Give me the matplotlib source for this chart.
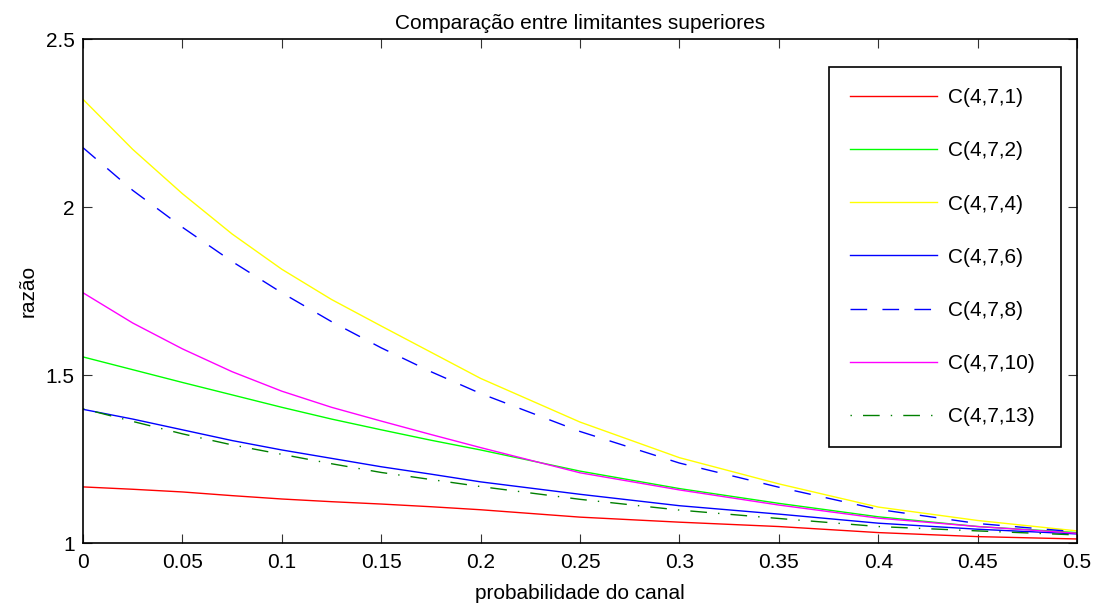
import matplotlib
matplotlib.use('Agg')
import matplotlib.pyplot as plt
from matplotlib.ticker import FuncFormatter

plt.rcParams['font.family'] = ['Liberation Sans', 'DejaVu Sans']

# probabilidade do canal
p = [0.0, 0.025, 0.05, 0.075, 0.10, 0.125, 0.15, 0.175, 0.20,
     0.25, 0.30, 0.35, 0.40, 0.45, 0.50]

c471  = [1.167, 1.160, 1.152, 1.141, 1.131, 1.123, 1.116, 1.108, 1.099,
         1.077, 1.062, 1.049, 1.031, 1.019, 1.012]
c472  = [1.554, 1.516, 1.478, 1.441, 1.404, 1.369, 1.337, 1.306, 1.277,
         1.214, 1.162, 1.118, 1.078, 1.049, 1.031]
c474  = [2.321, 2.172, 2.040, 1.920, 1.815, 1.725, 1.646, 1.568, 1.490,
         1.360, 1.254, 1.176, 1.107, 1.067, 1.036]
c476  = [1.398, 1.369, 1.337, 1.305, 1.277, 1.252, 1.227, 1.205, 1.182,
         1.145, 1.111, 1.086, 1.059, 1.041, 1.027]
c478  = [2.177, 2.050, 1.940, 1.838, 1.745, 1.659, 1.581, 1.510, 1.445,
         1.332, 1.238, 1.166, 1.100, 1.058, 1.033]
c4710 = [1.745, 1.655, 1.578, 1.510, 1.452, 1.404, 1.363, 1.323, 1.284,
         1.209, 1.158, 1.113, 1.074, 1.049, 1.029]
c4713 = [1.400, 1.362, 1.325, 1.292, 1.264, 1.236, 1.210, 1.189, 1.168,
         1.130, 1.098, 1.073, 1.049, 1.036, 1.024]

labels = ['C(4,7,1)', 'C(4,7,2)', 'C(4,7,4)', 'C(4,7,6)',
          'C(4,7,8)', 'C(4,7,10)', 'C(4,7,13)']

fig = plt.figure(figsize=(10.98, 6.03), dpi=100)
ax = fig.add_axes([0.0756, 0.0995, 0.9054, 0.8355])

lw = 1.0
ax.plot(p, c471,  color='#ff0000', lw=lw, label=labels[0])
ax.plot(p, c472,  color='#00ff00', lw=lw, label=labels[1])
ax.plot(p, c474,  color='#ffff00', lw=lw, label=labels[2])
ax.plot(p, c476,  color='#0000ff', lw=lw, label=labels[3])
ax.plot(p, c478,  color='#0000ff', lw=lw, linestyle=(0, (12, 11)), label=labels[4])
ax.plot(p, c4710, color='#ff00ff', lw=lw, label=labels[5])
ax.plot(p, c4713, color='#008000', lw=lw, linestyle=(0, (1, 8, 12, 8)), label=labels[6])

ax.set_xlim(0, 0.5)
ax.set_ylim(1, 2.5)
ax.set_xticks([0, 0.05, 0.1, 0.15, 0.2, 0.25, 0.3, 0.35, 0.4, 0.45, 0.5])
ax.set_yticks([1, 1.5, 2, 2.5])
fmt = FuncFormatter(lambda v, pos: '%g' % round(v, 3))
ax.xaxis.set_major_formatter(fmt)
ax.yaxis.set_major_formatter(fmt)
ax.tick_params(direction='in', length=6.5, width=0.8, top=True, right=True,
               labelsize=15, pad=6, color='#333333')
ax.tick_params(axis='x', pad=7)
for s in ax.spines.values():
    s.set_linewidth(1.2)

ax.set_title('Comparação entre limitantes superiores', fontsize=15, pad=7)
ax.set_xlabel('probabilidade do canal', fontsize=15, labelpad=9)
ax.set_ylabel('razão', fontsize=15, labelpad=6)

leg = ax.legend(loc='upper left', bbox_to_anchor=(0.7505, 0.0, 0.2334, 0.944),
                mode='expand', borderaxespad=0, fontsize=15,
                handlelength=4.2, handletextpad=0.5, labelspacing=1.64,
                borderpad=1.0, fancybox=False, framealpha=1, edgecolor='black')
leg.get_frame().set_linewidth(1.2)

plt.savefig('out.png', dpi=100)
